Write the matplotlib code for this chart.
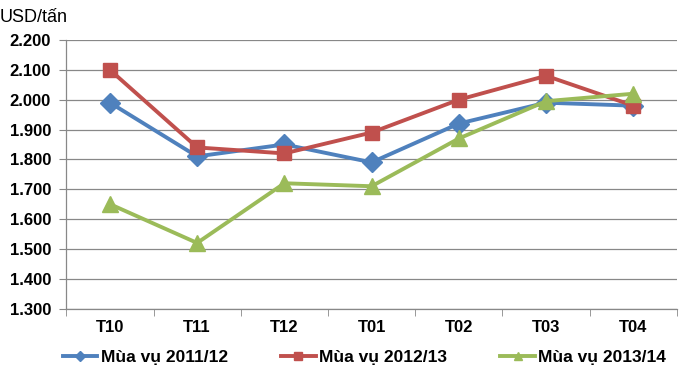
import matplotlib
matplotlib.use("Agg")
import matplotlib.pyplot as plt
from matplotlib.ticker import FixedLocator

plt.rcParams['font.family'] = ['Liberation Sans', 'DejaVu Sans']

categories = ["T10", "T11", "T12", "T01", "T02", "T03", "T04"]
s2011 = [1990, 1810, 1850, 1790, 1920, 1990, 1980]
s2012 = [2100, 1840, 1820, 1890, 2000, 2080, 1980]
s2013 = [1650, 1520, 1720, 1710, 1870, 1995, 2020]
series_names = ["Mùa vụ 2011/12", "Mùa vụ 2012/13", "Mùa vụ 2013/14"]
yticks = [1300, 1400, 1500, 1600, 1700, 1800, 1900, 2000, 2100, 2200]

fig = plt.figure(figsize=(6.8, 3.81), dpi=100)
ax = fig.add_axes([0.0975, 0.19, 0.898, 0.705])

x = list(range(len(categories)))
ax.plot(x, s2011, color="#4F81BD", lw=2.8, marker="D", ms=10, label=series_names[0], zorder=3)
ax.plot(x, s2012, color="#C0504D", lw=2.8, marker="s", ms=9.5, label=series_names[1], zorder=3)
ax.plot(x, s2013, color="#9BBB59", lw=2.8, marker="^", ms=11, label=series_names[2], zorder=4)

ax.set_xlim(-0.5, len(categories) - 0.5)
ax.set_ylim(1300, 2200)
ax.set_yticks(yticks)
ax.set_yticklabels([f"{v//1000}.{v%1000:03d}" for v in yticks], fontsize=12, fontweight="bold")
ax.set_xticks(x)
ax.set_xticklabels(categories, fontsize=12, fontweight="bold")
ax.xaxis.set_minor_locator(FixedLocator([i - 0.5 for i in range(len(categories) + 1)]))
ax.tick_params(axis="x", which="major", length=0, pad=8)
ax.tick_params(axis="x", which="minor", length=5, color="#888888", direction="out")
ax.tick_params(axis="y", length=5, color="#888888", direction="out", pad=6)

ax.grid(axis="y", color="#888888", lw=0.9)
ax.set_axisbelow(True)
for s in ["top", "right"]:
    ax.spines[s].set_visible(False)
for s in ["left", "bottom"]:
    ax.spines[s].set_color("#888888")
    ax.spines[s].set_linewidth(0.9)

fig.text(0.0, 0.955, "USD/tấn", fontsize=13, ha="left", va="center")

fig.legend(loc="center", bbox_to_anchor=(0.536, 0.062), ncol=3, frameon=False,
           prop={"weight": "bold", "size": 12.5}, handlelength=2.0, handletextpad=0.2,
           columnspacing=3.05, markerscale=0.55)

fig.savefig("out.png", dpi=100)
